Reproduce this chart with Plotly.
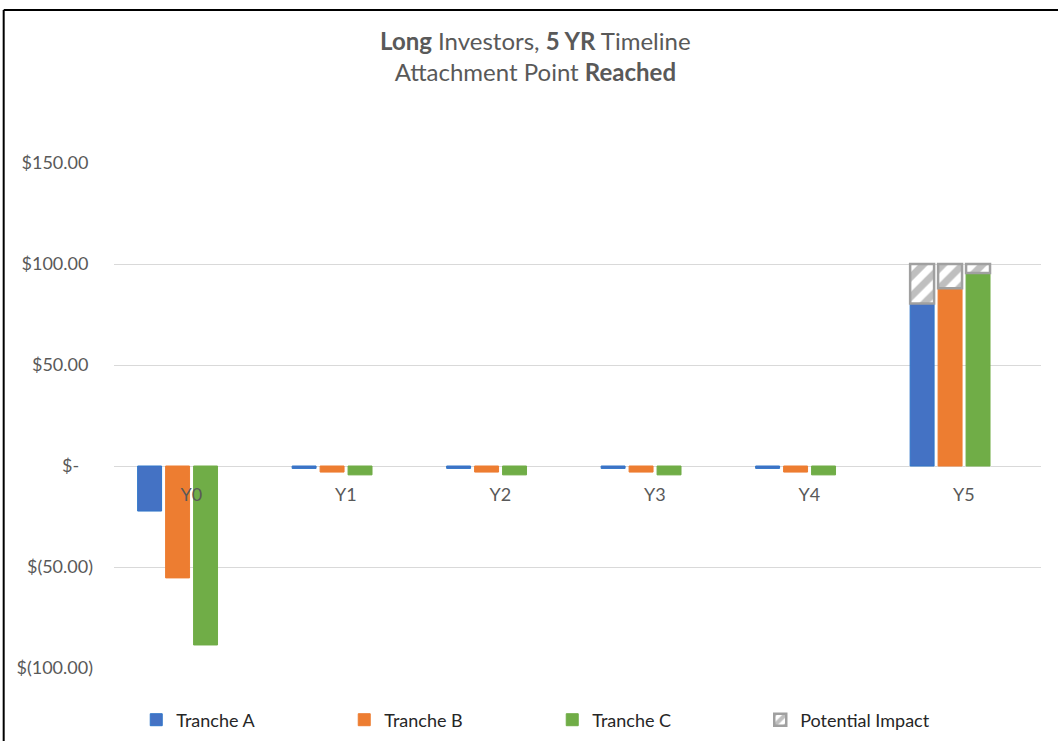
import plotly.graph_objects as go

categories = ["Y0", "Y1", "Y2", "Y3", "Y4", "Y5"]
tranche_a = [-22.3, -1.2, -1.2, -1.2, -1.2, 80.5]
tranche_b = [-55.4, -3.0, -3.0, -3.0, -3.0, 88.0]
tranche_c = [-88.6, -4.4, -4.4, -4.4, -4.4, 95.5]
impact_a = [None, None, None, None, None, 19.5]
impact_b = [None, None, None, None, None, 12.0]
impact_c = [None, None, None, None, None, 4.5]
tick_vals = [-100, -50, 0, 50, 100, 150]
tick_text = ["$(100.00)", "$(50.00)", "$-\u00a0\u00a0\u00a0", "$50.00\u00a0", "$100.00\u00a0", "$150.00\u00a0"]

FONT = "Lato, Calibri, Carlito, sans-serif"
GRAY = "#595959"

BAR_W = 0.155
series = [
    ("Tranche A", tranche_a, impact_a, "#4472C4", "#2F75C9", -0.347),
    ("Tranche B", tranche_b, impact_b, "#ED7D31", "#ED7D31", -0.166),
    ("Tranche C", tranche_c, impact_c, "#70AD47", "#70AD47", 0.015),
]

fig = go.Figure()
for name, vals, _, col, lc, off in series:
    fig.add_trace(go.Bar(
        x=categories, y=vals, name=name, width=BAR_W, offset=off,
        marker=dict(color=col, line=dict(color=lc, width=1)),
    ))
for i, (name, vals, imp, col, lc, off) in enumerate(series):
    base = [v if p is not None else None for v, p in zip(vals, imp)]
    fig.add_trace(go.Bar(
        x=categories, y=imp, base=base, name="Potential Impact",
        width=BAR_W, offset=off,
        legendgroup="impact", showlegend=(i == 0),
        marker=dict(color="white",
                    line=dict(color="#A0A0A0", width=2.5),
                    pattern=dict(shape="/", fgcolor="#7F7F7F", bgcolor="white",
                                 size=14, solidity=0.5)),
    ))

fig.update_layout(
    width=1058, height=741,
    paper_bgcolor="white", plot_bgcolor="white",
    margin=dict(l=114, r=17, t=163, b=73, autoexpand=False),
    barmode="overlay",
    font=dict(family=FONT, color=GRAY, size=18),
    title=dict(
        text="<b>Long</b> Investors, <b>5 YR</b> Timeline<br>Attachment Point <b>Reached</b>",
        x=0.506, xref="container", xanchor="center",
        y=0.933, yref="container", yanchor="middle",
        font=dict(family=FONT, size=24, color=GRAY),
    ),
    showlegend=True,
    legend=dict(
        orientation="h", x=0.024, xanchor="left", y=-0.103, yanchor="middle",
        entrywidth=163, entrywidthmode="pixels", traceorder="normal",
        font=dict(family=FONT, size=18, color="#262626"),
        bgcolor="rgba(0,0,0,0)",
    ),
    xaxis=dict(
        type="category", anchor="free", position=0.4,
        showgrid=False, showline=False, zeroline=False,
        ticks="outside", ticklen=12, tickcolor="rgba(0,0,0,0)",
        tickfont=dict(family=FONT, size=18, color=GRAY),
    ),
    yaxis=dict(
        range=[-100, 150], tickvals=tick_vals, ticktext=tick_text,
        showgrid=True, gridcolor="#D9D9D9", gridwidth=1,
        zeroline=True, zerolinecolor="#D9D9D9", zerolinewidth=1,
        showline=False, ticks="", ticklabelstandoff=20,
        tickfont=dict(family=FONT, size=18, color=GRAY),
    ),
    shapes=[
        dict(type="line", xref="paper", yref="paper",
             x0=-0.119, x1=1.03, y0=1.303, y1=1.303,
             line=dict(color="black", width=2)),
        dict(type="line", xref="paper", yref="paper",
             x0=-0.119, x1=-0.119, y0=1.303, y1=-0.16,
             line=dict(color="black", width=2)),
    ],
)
fig.write_html("out.html", config={"displayModeBar": False},
               post_script="document.body.style.margin='0';")
